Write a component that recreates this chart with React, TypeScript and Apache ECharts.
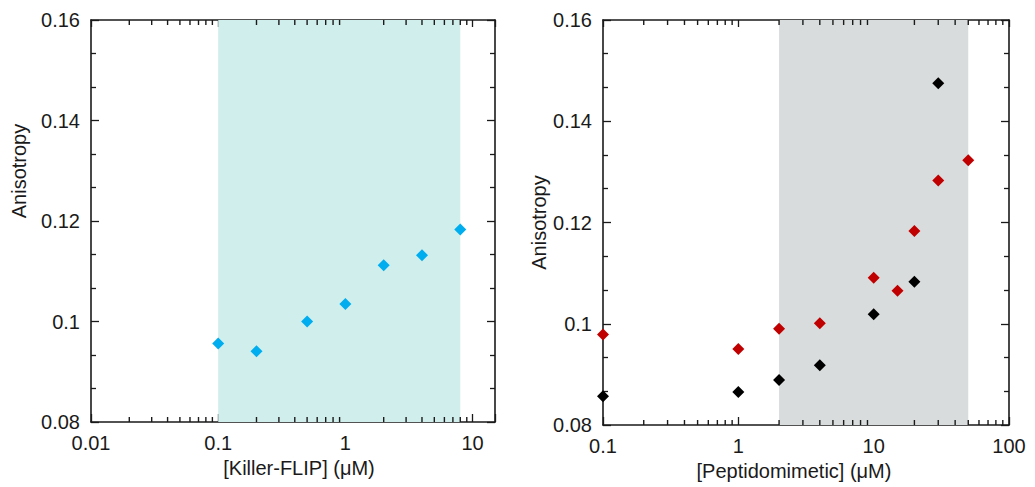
import React, { useEffect, useRef } from "react";
import * as echarts from "echarts";

const Y_MIN = 0.08;
const Y_MAX = 0.16;
const Y_STEP = 0.02;

// Left panel: [Killer-FLIP]
const killerX = [0.1, 0.2, 0.5, 1, 2, 4, 8];
const killerY = [0.0956, 0.0941, 0.1, 0.1035, 0.1112, 0.1132, 0.1183];
const killerRange = [0.1, 8];
const leftXMin = 0.01;
const leftXMax = 15;
const leftMinor = [0.02, 0.03, 0.04, 0.05, 0.06, 0.07, 0.08, 0.09, 0.2, 0.3, 0.4, 0.5, 0.6, 0.7, 0.8, 0.9, 2, 3, 4, 5, 6, 7, 8, 9];

// Right panel: [Peptidomimetic]
const blackX = [0.1, 1, 2, 4, 10, 20, 30];
const blackY = [0.0857, 0.0865, 0.0889, 0.0918, 0.1019, 0.1083, 0.1475];
const redX = [0.1, 1, 2, 4, 10, 15, 20, 30, 50];
const redY = [0.0979, 0.095, 0.099, 0.1001, 0.1091, 0.1065, 0.1183, 0.1283, 0.1323];
const peptRange = [2, 50];
const rightXMin = 0.1;
const rightXMax = 100;
const rightMinor = [0.2, 0.3, 0.4, 0.5, 0.6, 0.7, 0.8, 0.9, 2, 3, 4, 5, 6, 7, 8, 9, 20, 30, 40, 50, 60, 70, 80, 90];

const INK = "#1a1a1a";
const FONT = "'Liberation Sans', Arial, sans-serif";
const FS = 20;

function decadeLabel(v: number) {
  const l = Math.log10(v);
  return Math.abs(l - Math.round(l)) < 1e-6 ? String(+v.toPrecision(3)) : "";
}

function xAxes(grid: number, min: number, max: number, name: string, pad: number[]) {
  const line = { show: true, lineStyle: { color: INK, width: 1.6 } };
  return [
    {
      gridIndex: grid, type: "log", logBase: 10, min, max, position: "bottom",
      axisLine: line,
      axisTick: { show: true, inside: true, length: 8, lineStyle: { color: INK, width: 1.3 } },
      axisLabel: { show: true, fontSize: FS, color: INK, fontFamily: FONT, margin: 11, formatter: decadeLabel },
      splitLine: { show: false },
      name, nameLocation: "middle", nameGap: 35,
      nameTextStyle: { fontSize: FS, color: INK, fontFamily: FONT, padding: pad },
    },
    {
      gridIndex: grid, type: "log", logBase: 10, min, max, position: "top",
      axisLine: line,
      axisTick: { show: true, inside: true, length: 7, lineStyle: { color: INK, width: 1.3 } },
      axisLabel: { show: false },
      splitLine: { show: false },
    },
  ];
}

function yAxes(grid: number, nameGap: number, pad: number) {
  const line = { show: true, lineStyle: { color: INK, width: 1.6 } };
  const tick = { show: true, inside: true, length: 8, lineStyle: { color: INK, width: 1.3 } };
  const minor = { show: true, splitNumber: 3, length: 5, lineStyle: { color: INK, width: 1.3 } };
  return [
    {
      gridIndex: grid, type: "value", min: Y_MIN, max: Y_MAX, interval: Y_STEP, position: "left",
      axisLine: line, axisTick: tick, minorTick: minor,
      axisLabel: { fontSize: FS, color: INK, fontFamily: FONT, margin: 11 },
      splitLine: { show: false }, minorSplitLine: { show: false },
      name: "Anisotropy", nameLocation: "middle", nameGap, nameRotate: 90,
      nameTextStyle: { fontSize: FS, color: INK, fontFamily: FONT, padding: [0, 0, 0, pad] },
    },
    {
      gridIndex: grid, type: "value", min: Y_MIN, max: Y_MAX, interval: Y_STEP, position: "right",
      axisLine: line, axisTick: tick, minorTick: minor,
      axisLabel: { show: false },
      splitLine: { show: false }, minorSplitLine: { show: false },
    },
  ];
}

// Log-style minor ticks (2..9 per decade) on the bottom and top edges
function minorTicks(xIdx: number, yIdx: number, values: number[]) {
  const mk = (y: number, dy: number) => ({
    type: "scatter", xAxisIndex: xIdx, yAxisIndex: yIdx, silent: true, clip: false, z: 6,
    symbol: "rect", symbolSize: [1.4, 5], symbolOffset: [0, dy],
    itemStyle: { color: INK, opacity: 1 },
    data: values.map((v) => [v, y]),
  });
  return [mk(Y_MIN, -2.5), mk(Y_MAX, 2.5)];
}

export default function App() {
  const ref = useRef<HTMLDivElement>(null);
  useEffect(() => {
    document.body.style.margin = "0";
    const chart = echarts.init(ref.current!, undefined, { renderer: "svg" });
    chart.setOption({
      animation: false,
      backgroundColor: "#ffffff",
      textStyle: { fontFamily: FONT },
      grid: [
        { left: 91, right: 540, top: 20, bottom: 65 },
        { left: 603, right: 26, top: 20, bottom: 62 },
      ],
      xAxis: [
        ...xAxes(0, leftXMin, leftXMax, "[Killer-FLIP] (μM)", [0, 0, 0, 12]),
        ...xAxes(1, rightXMin, rightXMax, "[Peptidomimetic] (μM)", [0, 24, 0, 0]),
      ],
      yAxis: [...yAxes(0, 62, 100), ...yAxes(1, 45, 0)],
      series: [
        {
          type: "scatter", xAxisIndex: 0, yAxisIndex: 0, symbol: "diamond", symbolSize: 12,
          itemStyle: { color: "#00adef", opacity: 1 },
          data: killerX.map((x, i) => [x, killerY[i]]),
          z: 3,
          markArea: {
            silent: true,
            itemStyle: { color: "#cfeeec", opacity: 1 },
            data: [[{ xAxis: killerRange[0] }, { xAxis: killerRange[1] }]],
          },
        },
        {
          type: "scatter", xAxisIndex: 2, yAxisIndex: 2, symbol: "diamond", symbolSize: 12,
          itemStyle: { color: "#000000", opacity: 1 },
          data: blackX.map((x, i) => [x, blackY[i]]),
          z: 3,
          markArea: {
            silent: true,
            itemStyle: { color: "#d9dcdc", opacity: 1 },
            data: [[{ xAxis: peptRange[0] }, { xAxis: peptRange[1] }]],
          },
        },
        {
          type: "scatter", xAxisIndex: 2, yAxisIndex: 2, symbol: "diamond", symbolSize: 12,
          itemStyle: { color: "#c00000", opacity: 1 },
          data: redX.map((x, i) => [x, redY[i]]),
          z: 3,
        },
        ...minorTicks(0, 0, leftMinor),
        ...minorTicks(2, 2, rightMinor),
      ],
    });
    return () => chart.dispose();
  }, []);
  return <div ref={ref} style={{ width: 1035, height: 487 }} />;
}
